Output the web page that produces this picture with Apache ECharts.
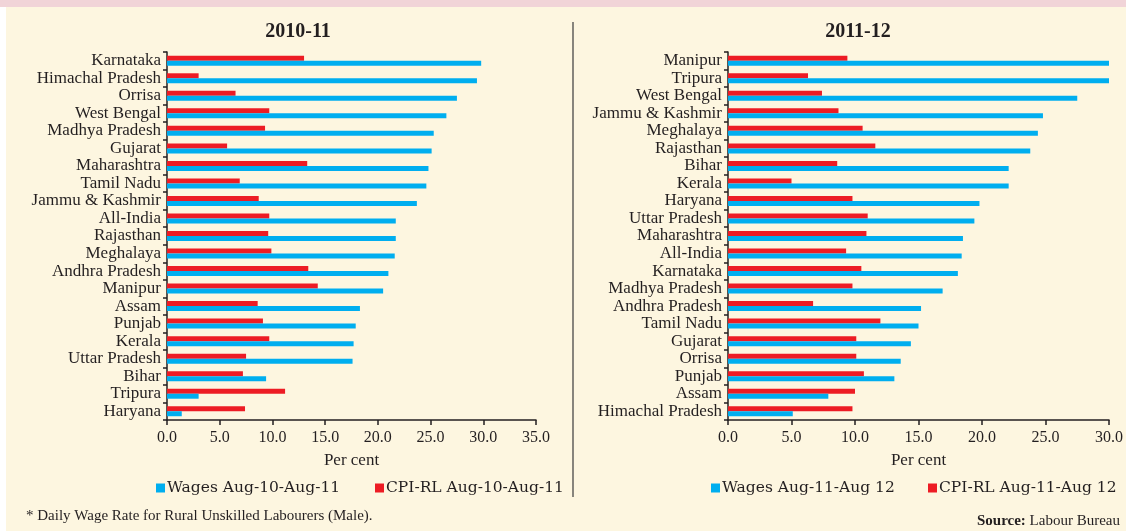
<!DOCTYPE html>
<html>
<head>
<meta charset="utf-8">
<title>Wages vs CPI-RL</title>
<script src="https://cdn.jsdelivr.net/npm/echarts@6/dist/echarts.min.js"></script>
<style>
    html, body { margin: 0; padding: 0; background: #fff; }
    #main { width: 1126px; height: 531px; }
</style>
</head>
<body>
<div id="main"></div>
<script>
    // 2010-11 panel
    var states1 = ['Karnataka', 'Himachal Pradesh', 'Orrisa', 'West Bengal', 'Madhya Pradesh', 'Gujarat',
        'Maharashtra', 'Tamil Nadu', 'Jammu & Kashmir', 'All-India', 'Rajasthan', 'Meghalaya',
        'Andhra Pradesh', 'Manipur', 'Assam', 'Punjab', 'Kerala', 'Uttar Pradesh', 'Bihar', 'Tripura', 'Haryana'];
    var wages1 = [29.8, 29.4, 27.5, 26.5, 25.3, 25.1, 24.8, 24.6, 23.7, 21.7, 21.7, 21.6,
        21.0, 20.5, 18.3, 17.9, 17.7, 17.6, 9.4, 3.0, 1.4];
    var cpi1 = [13.0, 3.0, 6.5, 9.7, 9.3, 5.7, 13.3, 6.9, 8.7, 9.7, 9.6, 9.9,
        13.4, 14.3, 8.6, 9.1, 9.7, 7.5, 7.2, 11.2, 7.4];

    // 2011-12 panel
    var states2 = ['Manipur', 'Tripura', 'West Bengal', 'Jammu & Kashmir', 'Meghalaya', 'Rajasthan', 'Bihar',
        'Kerala', 'Haryana', 'Uttar Pradesh', 'Maharashtra', 'All-India', 'Karnataka', 'Madhya Pradesh',
        'Andhra Pradesh', 'Tamil Nadu', 'Gujarat', 'Orrisa', 'Punjab', 'Assam', 'Himachal Pradesh'];
    var wages2 = [30.0, 30.0, 27.5, 24.8, 24.4, 23.8, 22.1, 22.1, 19.8, 19.4, 18.5, 18.4,
        18.1, 16.9, 15.2, 15.0, 14.4, 13.6, 13.1, 7.9, 5.1];
    var cpi2 = [9.4, 6.3, 7.4, 8.7, 10.6, 11.6, 8.6, 5.0, 9.8, 11.0, 10.9, 9.3,
        10.5, 9.8, 6.7, 12.0, 10.1, 10.1, 10.7, 10.0, 9.8];

    var ticks1 = ['0.0', '5.0', '10.0', '15.0', '20.0', '25.0', '30.0', '35.0'];
    var ticks2 = ['0.0', '5.0', '10.0', '15.0', '20.0', '25.0', '30.0'];

    var BLUE = '#00aeef', RED = '#ed1c24', INK = '#231f20';
    var SERIF = '"Liberation Serif", "Times New Roman", serif';

    function xAx(idx, max) {
        return {
            type: 'value', gridIndex: idx, min: 0, max: max, interval: 5,
            name: 'Per cent', nameLocation: 'middle', nameGap: 32,
            nameTextStyle: { color: INK, fontSize: 17, fontFamily: SERIF },
            splitLine: { show: false },
            axisLine: { show: true, lineStyle: { color: INK, width: 1.5 } },
            axisTick: { show: true, length: 5, lineStyle: { color: INK, width: 1.5 } },
            axisLabel: {
                color: INK, fontSize: 16, fontFamily: SERIF, margin: 10,
                formatter: function (v) { return (idx === 0 ? ticks1 : ticks2)[v / 5]; }
            }
        };
    }

    function yAx(idx, cats) {
        return {
            type: 'category', gridIndex: idx, data: cats, inverse: true,
            axisLine: { show: true, lineStyle: { color: INK, width: 1.5 } },
            axisTick: { show: true, length: 4, lineStyle: { color: INK, width: 1.5 } },
            axisLabel: { color: INK, fontSize: 17, fontFamily: SERIF, margin: 6, interval: 0 }
        };
    }

    function legendAt(x, name, color) {
        return {
            left: x, top: 480, padding: 0, icon: 'rect', itemWidth: 9, itemHeight: 9,
            data: [{ name: name, itemStyle: { color: color } }],
            textStyle: { color: INK, fontSize: 15.5, fontFamily: '"DejaVu Serif", serif', padding: [0, 0, 0, -3] }
        };
    }

    function barSeries(name, idx, data, color) {
        return {
            name: name, type: 'bar', xAxisIndex: idx, yAxisIndex: idx,
            data: data, barWidth: 5, barGap: '0%',
            itemStyle: { color: color }
        };
    }

    var myChart = echarts.init(document.getElementById('main'));
    myChart.setOption({
        animation: false,
        backgroundColor: '#ffffff',
        graphic: [
            { type: 'rect', shape: { x: 0, y: 0, width: 1126, height: 7 }, style: { fill: '#f1d4d8' }, z: -10 },
            { type: 'rect', shape: { x: 6, y: 7, width: 1120, height: 524 }, style: { fill: '#fdf6e0' }, z: -10 },
            { type: 'line', shape: { x1: 573, y1: 22, x2: 573, y2: 497 }, style: { stroke: '#3a3a3a', lineWidth: 1.2 } },
            {
                type: 'text', left: 26, top: 509,
                style: { text: '* Daily Wage Rate for Rural Unskilled Labourers (Male).', fill: INK, font: '15px ' + SERIF }
            },
            {
                type: 'text', right: 6, top: 514,
                style: {
                    text: '{b|Source:} Labour Bureau',
                    rich: {
                        b: { fontWeight: 'bold', fontSize: 15, fontFamily: SERIF, fill: INK }
                    },
                    fill: INK, font: '15px ' + SERIF
                }
            }
        ],
        title: [
            { text: '2010-11', left: 293, top: 17, textAlign: 'center',
              textStyle: { color: INK, fontSize: 20, fontWeight: 'bold', fontFamily: SERIF } },
            { text: '2011-12', left: 853, top: 17, textAlign: 'center',
              textStyle: { color: INK, fontSize: 20, fontWeight: 'bold', fontFamily: SERIF } }
        ],
        legend: [
            legendAt(156, 'Wages Aug-10-Aug-11', BLUE),
            legendAt(375, 'CPI-RL Aug-10-Aug-11', RED),
            legendAt(711, 'Wages Aug-11-Aug 12', BLUE),
            legendAt(928, 'CPI-RL Aug-11-Aug 12', RED)
        ],
        grid: [
            { left: 167, top: 52, width: 369, height: 368 },
            { left: 728, top: 52, width: 383, height: 368 }
        ],
        xAxis: [xAx(0, 35), xAx(1, 30)],
        yAxis: [yAx(0, states1), yAx(1, states2)],
        series: [
            barSeries('CPI-RL Aug-10-Aug-11', 0, cpi1, RED),
            barSeries('Wages Aug-10-Aug-11', 0, wages1, BLUE),
            barSeries('CPI-RL Aug-11-Aug 12', 1, cpi2, RED),
            barSeries('Wages Aug-11-Aug 12', 1, wages2, BLUE)
        ]
    });
</script>
</body>
</html>
